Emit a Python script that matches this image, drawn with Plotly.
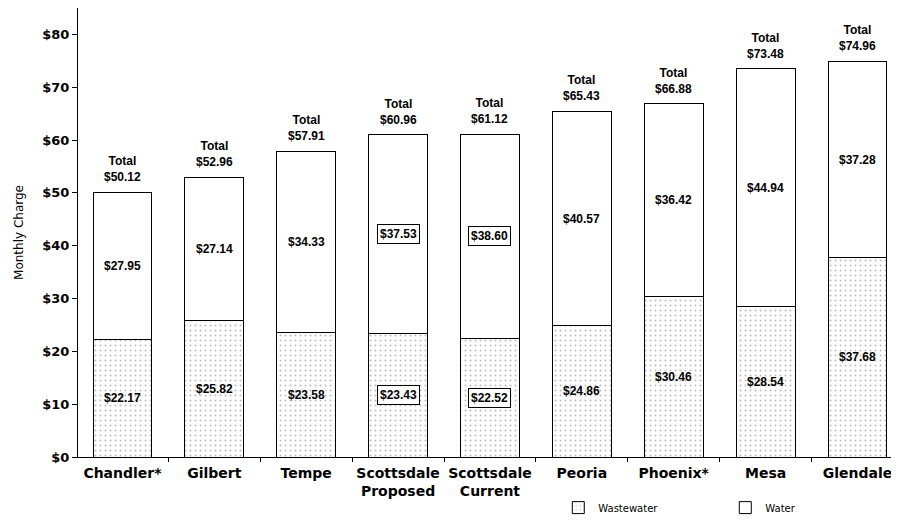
import plotly.graph_objects as go

cities = ["Chandler*", "Gilbert", "Tempe", "Scottsdale<br>Proposed", "Scottsdale<br>Current",
          "Peoria", "Phoenix*", "Mesa", "Glendale"]
wastewater = [22.17, 25.82, 23.58, 23.43, 22.52, 24.86, 30.46, 28.54, 37.68]
water = [27.95, 27.14, 34.33, 37.53, 38.60, 40.57, 36.42, 44.94, 37.28]
totals = [50.12, 52.96, 57.91, 60.96, 61.12, 65.43, 66.88, 73.48, 74.96]
boxed = [False, False, False, True, True, False, False, False, False]
y_ticks = [0, 10, 20, 30, 40, 50, 60, 70, 80]

fig = go.Figure()
fig.add_trace(go.Bar(
    x=cities, y=wastewater, name="Wastewater", width=0.64,
    marker=dict(color="white", line=dict(color="black", width=1),
                pattern=dict(shape=".", fgcolor="#777777", bgcolor="white", size=5, solidity=0.12)),
))
fig.add_trace(go.Bar(
    x=cities, y=water, name="Water", width=0.64,
    marker=dict(color="white", line=dict(color="black", width=1)),
))

lab_font = dict(family="Liberation Sans", size=12, color="black")
for i, c in enumerate(cities):
    for val, mid in ((wastewater[i], wastewater[i] / 2), (water[i], wastewater[i] + water[i] / 2)):
        a = dict(x=c, y=mid, text="<b>$%.2f</b>" % val, showarrow=False, font=lab_font,
                 xanchor="center", yanchor="middle")
        if boxed[i]:
            a.update(bordercolor="black", borderwidth=1, borderpad=2, bgcolor="white")
        fig.add_annotation(**a)
    fig.add_annotation(x=c, y=totals[i], text="<b>Total<br>$%.2f</b>" % totals[i], showarrow=False,
                       font=lab_font, xanchor="center", yanchor="bottom", yshift=6)

fig.update_layout(
    barmode="stack", width=891, height=515,
    margin=dict(l=70, r=0, t=0, b=66),
    plot_bgcolor="white", paper_bgcolor="white",
    showlegend=True,
    legend=dict(orientation="h", x=0.585, y=-0.145, xanchor="left", yanchor="bottom",
                font=dict(family="DejaVu Sans", size=10, color="black"),
                itemwidth=30, entrywidth=122, entrywidthmode="pixels", traceorder="normal",
                bgcolor="rgba(0,0,0,0)"),
    xaxis=dict(range=[-0.484, 8.452], showline=True, linecolor="black", linewidth=1,
               ticks="outside", tickson="boundaries", ticklen=4, tickcolor="black",
               tickangle=0, automargin=False, ticklabelstandoff=3,
               tickfont=dict(family="DejaVu Sans", size=14, color="black"),
               showgrid=False),
    yaxis=dict(range=[0, 85], tickvals=y_ticks, ticktext=["<b>$%d</b>" % v for v in y_ticks],
               showline=True, linecolor="black", linewidth=1, automargin=False,
               ticks="outside", ticklen=5, tickcolor="black", showgrid=False, zeroline=False,
               tickfont=dict(family="DejaVu Sans", size=13, color="black"),
               title=dict(text="Monthly Charge", font=dict(family="DejaVu Sans", size=12, color="black"),
                          standoff=16)),
)
fig.update_xaxes(ticktext=["<b>%s</b>" % c for c in cities], tickvals=cities)

fig.write_html("out.html")
